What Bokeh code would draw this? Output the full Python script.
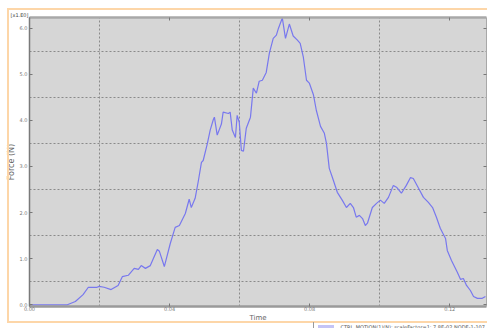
from bokeh.plotting import figure
from bokeh.models import (LinearAxis, FixedTicker, PrintfTickFormatter, Range1d,
                          Title, InlineStyleSheet)
from bokeh.embed import file_html
from bokeh.resources import INLINE

# ---- data ----
time = [0.0, 0.0108, 0.0131, 0.0153, 0.0168, 0.0193, 0.0199, 0.0213, 0.0233, 0.0253,
        0.0265, 0.0282, 0.0299, 0.0311, 0.0319, 0.0331, 0.0345, 0.0365, 0.0371, 0.0385,
        0.0402, 0.0416, 0.0428, 0.0445, 0.0456, 0.0462, 0.0473, 0.0482, 0.0491, 0.0496,
        0.0508, 0.0516, 0.0525, 0.0528, 0.0536, 0.0548, 0.0553, 0.0568, 0.0573, 0.0579,
        0.0588, 0.0593, 0.0599, 0.0605, 0.0611, 0.0619, 0.0631, 0.0639, 0.0648, 0.0656,
        0.0665, 0.0676, 0.0685, 0.0696, 0.0705, 0.0711, 0.0722, 0.0731, 0.0742, 0.0753,
        0.0765, 0.0773, 0.0782, 0.0791, 0.0799, 0.0811, 0.0819, 0.0831, 0.0842, 0.0848,
        0.0856, 0.0865, 0.0879, 0.0893, 0.0905, 0.0916, 0.0925, 0.0933, 0.0942, 0.0951,
        0.0959, 0.0965, 0.0979, 0.0991, 0.1002, 0.1013, 0.1025, 0.1039, 0.1048, 0.1062,
        0.1076, 0.1088, 0.1096, 0.1111, 0.1125, 0.1139, 0.1151, 0.1162, 0.1173, 0.1188,
        0.1193, 0.1205, 0.1222, 0.1231, 0.1239, 0.1248, 0.1259, 0.1268, 0.1279, 0.1293,
        0.1302]
force = [0.0, 0.0, 0.07, 0.22, 0.38, 0.38, 0.40, 0.38, 0.33, 0.42,
         0.61, 0.64, 0.79, 0.77, 0.85, 0.79, 0.85, 1.20, 1.16, 0.83,
         1.33, 1.68, 1.72, 1.98, 2.29, 2.11, 2.31, 2.68, 3.09, 3.13,
         3.50, 3.79, 4.02, 4.07, 3.68, 3.92, 4.18, 4.15, 4.18, 3.79,
         3.63, 4.11, 3.96, 3.35, 3.33, 3.83, 4.07, 4.70, 4.59, 4.85,
         4.87, 5.04, 5.46, 5.78, 5.85, 6.00, 6.22, 5.78, 6.09, 5.83,
         5.74, 5.67, 5.37, 4.87, 4.81, 4.55, 4.22, 3.87, 3.72, 3.50,
         2.96, 2.76, 2.44, 2.27, 2.11, 2.20, 2.11, 1.90, 1.94, 1.87,
         1.72, 1.77, 2.11, 2.20, 2.27, 2.20, 2.33, 2.59, 2.55, 2.42,
         2.59, 2.76, 2.74, 2.53, 2.33, 2.22, 2.11, 1.90, 1.66, 1.44,
         1.18, 0.96, 0.70, 0.55, 0.57, 0.42, 0.31, 0.18, 0.14, 0.14,
         0.18]
x_ticks = [0.0, 0.04, 0.08, 0.12]
y_ticks = [0, 1, 2, 3, 4, 5, 6]
x_grid = [0.02, 0.06, 0.10]
y_grid = [0.5, 1.5, 2.5, 3.5, 4.5, 5.5]
series_name = "CTRL_MOTION(1)(N): scaleFactor=1; 7.8E-02 NODE-1-107"
scale_note = "[x1.E0]"

p = figure(width=487, height=328, output_backend="svg", toolbar_location=None,
           x_range=Range1d(0, 0.1305), y_range=Range1d(-0.037, 6.232),
           x_axis_location=None, y_axis_location=None,
           min_border_left=29, min_border_right=1, min_border_top=17, min_border_bottom=22)
p.background_fill_color = "#d6d6d6"
p.border_fill_color = "white"
p.outline_line_color = None

# outer light-orange frame and the legend's box / line sample (decoration only)
p.stylesheets = [InlineStyleSheet(css=(
    ":host::after { content: ''; position: absolute; z-index: 2; left: 7px; top: 8px;"
    " width: 520px; height: 315px; box-sizing: border-box; border: 2px solid #fdd6a8;"
    " pointer-events: none; }"
    ":host::before { content: ''; position: absolute; z-index: 3; left: 313px; top: 322px;"
    " width: 24px; height: 12px; border-left: 1px solid #9a9a9a; pointer-events: none;"
    " background: linear-gradient(#c4c4f6, #c4c4f6) no-repeat 4px 3px / 16px 3px; }"))]

lab_font = "DejaVu Sans"
la = LinearAxis(ticker=FixedTicker(ticks=y_ticks), formatter=PrintfTickFormatter(format="%.1f"),
                axis_label="Force (N)")
ba = LinearAxis(ticker=FixedTicker(ticks=x_ticks), formatter=PrintfTickFormatter(format="%.2f"),
                axis_label="Time")
for ax in (la, ba):
    ax.major_tick_in = 3
    ax.major_tick_out = 0
    ax.minor_tick_in = 0
    ax.minor_tick_out = 0
    ax.major_tick_line_color = "#777777"
    ax.major_label_text_font = lab_font
    ax.major_label_text_font_size = "5px"
    ax.major_label_text_color = "#777777"
    ax.axis_label_text_font = lab_font
    ax.axis_label_text_font_style = "normal"
    ax.axis_label_text_color = "#666666"
la.major_label_standoff = 2
la.axis_label_text_font_size = "8px"
la.axis_label_standoff = 1
la.axis_line_color = "#7a7a7a"
la.axis_line_width = 1.5
ba.major_label_standoff = 0
ba.axis_label_text_font_size = "7px"
ba.axis_label_standoff = 0
ba.axis_line_color = "#9a9a9a"
ba.axis_line_width = 2.5
p.add_layout(la, "left")
p.add_layout(ba, "below")

ta = LinearAxis(ticker=FixedTicker(ticks=x_ticks))
ra = LinearAxis(ticker=FixedTicker(ticks=y_ticks))
for ax in (ta, ra):
    ax.major_label_text_font_size = "0px"
    ax.major_label_standoff = 0
    ax.major_tick_in = 3
    ax.major_tick_out = 0
    ax.minor_tick_in = 0
    ax.minor_tick_out = 0
    ax.axis_line_color = "#a8a8a8"
    ax.major_tick_line_color = "#777777"
ta.axis_line_width = 2.5
p.add_layout(ta, "above")
p.add_layout(ra, "right")

p.add_layout(Title(text=scale_note, align="left", offset=-19, text_font=lab_font,
                   text_font_size="5px", text_font_style="normal", text_color="#444444",
                   standoff=0), "above")

p.xgrid.ticker = FixedTicker(ticks=x_grid)
p.ygrid.ticker = FixedTicker(ticks=y_grid)
for g in (p.xgrid, p.ygrid):
    g.grid_line_color = "#8a8a8a"
    g.grid_line_dash = "2 2"
    g.grid_line_width = 1

p.line(time, force, line_color="#7878ee", line_width=1.2)

# legend entry text, placed below the bottom axis
p.add_layout(Title(text=series_name, align="left", offset=311, text_font=lab_font,
                   text_font_size="5px", text_font_style="normal", text_color="#555555",
                   standoff=-6), "below")

open("out.html", "w").write(file_html(p, INLINE))
